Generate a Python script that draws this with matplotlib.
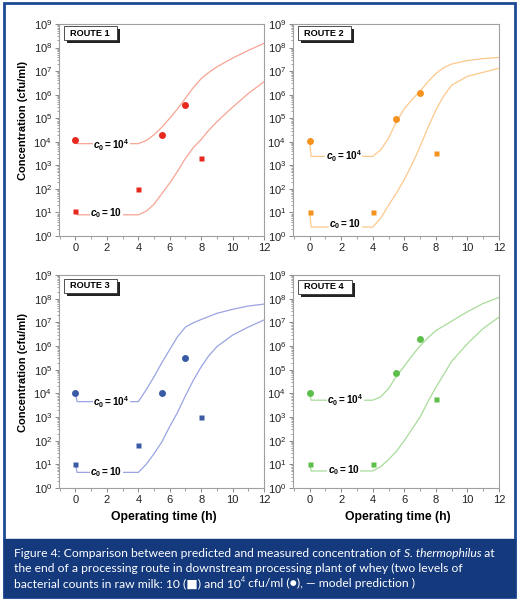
import numpy as np
import matplotlib
matplotlib.use("Agg")
import matplotlib.pyplot as plt
from matplotlib.patches import Rectangle
from matplotlib.ticker import FixedLocator, FuncFormatter, LogLocator, NullFormatter

plt.rcParams['mathtext.fontset'] = 'custom'
plt.rcParams['mathtext.rm'] = 'Liberation Sans'
plt.rcParams['mathtext.it'] = 'Liberation Sans:italic'
plt.rcParams['mathtext.bf'] = 'Liberation Sans:bold'
plt.rcParams['mathtext.bfit'] = 'Liberation Sans:bold:italic'
plt.rcParams['font.family'] = ['Liberation Sans', 'DejaVu Sans']

W, H = 521, 600

# ---------------- data (log10 cfu/ml) ----------------
routes = ["ROUTE 1", "ROUTE 2", "ROUTE 3", "ROUTE 4"]

meas_hi_t = [0, 5.5, 7]
meas_lo_t = [0, 4, 8]
route1_meas_hi = [4.07, 4.29, 5.56]
route1_meas_lo = [1.08, 2.0, 3.3]
route2_meas_hi = [4.04, 4.97, 6.06]
route2_meas_lo = [1.02, 1.02, 3.52]
route3_meas_hi = [4.02, 4.02, 5.5]
route3_meas_lo = [1.02, 1.8, 3.0]
route4_meas_hi = [4.0, 4.84, 6.28]
route4_meas_lo = [1.02, 1.02, 3.75]

model_t = [0, 0.1, 4.0, 4.5, 5.0, 5.5, 6.0, 6.5, 7.0, 7.5, 8.0, 8.5, 9.0, 10.0, 11.0, 12.0]
route1_model_hi = [4.05, 3.92, 3.92, 4.05, 4.3, 4.62, 5.0, 5.4, 5.85, 6.3, 6.68, 6.95, 7.18, 7.55, 7.88, 8.18]
route1_model_lo = [1.05, 0.9, 0.9, 1.05, 1.35, 1.8, 2.25, 2.75, 3.3, 3.75, 4.1, 4.5, 4.85, 5.47, 6.05, 6.55]
route2_model_hi = [4.06, 3.38, 3.38, 3.65, 4.15, 4.85, 5.4, 5.8, 6.15, 6.55, 6.9, 7.15, 7.3, 7.45, 7.53, 7.58]
route2_model_lo = [1.05, 0.38, 0.38, 0.75, 1.3, 1.82, 2.4, 3.05, 3.8, 4.6, 5.35, 5.95, 6.4, 6.78, 6.95, 7.12]
route3_model_hi = [4.0, 3.65, 3.65, 4.15, 4.7, 5.3, 5.85, 6.4, 6.8, 6.98, 7.12, 7.25, 7.38, 7.55, 7.69, 7.77]
route3_model_lo = [1.01, 0.66, 0.66, 1.0, 1.45, 1.95, 2.6, 3.2, 3.9, 4.55, 5.12, 5.6, 5.97, 6.46, 6.8, 7.1]
route4_model_hi = [4.0, 3.71, 3.71, 3.85, 4.2, 4.72, 5.15, 5.6, 6.0, 6.35, 6.65, 6.85, 7.05, 7.45, 7.8, 8.05]
route4_model_lo = [1.03, 0.72, 0.72, 0.9, 1.2, 1.55, 2.0, 2.5, 3.0, 3.65, 4.25, 4.8, 5.35, 6.1, 6.74, 7.22]

label_hi_pos = [(2.28, 3.84), (2.15, 3.38), (2.28, 3.62), (2.26, 3.71)]
label_lo_pos = [(1.96, 0.96), (2.26, 0.52), (1.96, 0.69), (2.15, 0.75)]

marker_colors = ["#e8281e", "#f5921e", "#3a5aa6", "#5bbf4a"]
line_colors = ["#f6a494", "#fcc98c", "#9aa4e2", "#a8dc9a"]

meas_hi = [route1_meas_hi, route2_meas_hi, route3_meas_hi, route4_meas_hi]
meas_lo = [route1_meas_lo, route2_meas_lo, route3_meas_lo, route4_meas_lo]
model_hi = [route1_model_hi, route2_model_hi, route3_model_hi, route4_model_hi]
model_lo = [route1_model_lo, route2_model_lo, route3_model_lo, route4_model_lo]

# ---------------- figure ----------------
fig = plt.figure(figsize=(W / 100, H / 100), dpi=100)
fig.patch.set_facecolor("white")

def fx(x):
    return x / W

def fy(y):
    return 1 - y / H

# outer frame
fig.add_artist(Rectangle((fx(4), fy(597)), fx(515) - fx(4), fy(3) - fy(597),
                         transform=fig.transFigure, fill=False, edgecolor="#1d4a97", lw=2.0))
# caption box
fig.add_artist(Rectangle((fx(4), fy(597)), fx(515) - fx(4), fy(539) - fy(597),
                         transform=fig.transFigure, facecolor="#14397c", edgecolor="#14397c", lw=1))

panels = [(59, 24, 264, 236), (293, 24, 499, 236), (59, 275, 264, 488), (293, 275, 499, 488)]
route_boxes = [(64, 26, 117, 40), (298, 26, 351, 40), (64, 279, 117, 293), (298, 280, 352, 294)]

def fmt(v, pos):
    e = int(round(np.log10(v)))
    return r'$\mathrm{10^{%d}}$' % e

for i in range(4):
    x0, y0, x1, y1 = panels[i]
    ax = fig.add_axes([fx(x0), fy(y1), fx(x1) - fx(x0), fy(y0) - fy(y1)])
    ax.set_yscale('log')
    ax.set_xlim(-1.05, 12)
    ax.set_ylim(1, 1e9)
    t = np.array(model_t)
    ax.plot(t, 10 ** np.array(model_hi[i]), color=line_colors[i], lw=0.9, zorder=2)
    ax.plot(t, 10 ** np.array(model_lo[i]), color=line_colors[i], lw=0.9, zorder=2)
    ax.plot(meas_hi_t, 10 ** np.array(meas_hi[i]), 'o', color=marker_colors[i], ms=5, mec='none', zorder=4)
    ax.plot(meas_lo_t, 10 ** np.array(meas_lo[i]), 's', color=marker_colors[i], ms=3.6, mec='none', zorder=4)

    lx, ly = label_hi_pos[i]
    ax.text(lx, 10 ** ly, r'$\mathbfit{c}_{\mathbf{0}}\mathbf{=10^{4}}$', fontsize=7.2, ha='center', va='center',
            zorder=3, bbox=dict(facecolor='white', edgecolor='none', pad=0.3))
    lx, ly = label_lo_pos[i]
    ax.text(lx, 10 ** ly, r'$\mathbfit{c}_{\mathbf{0}}\mathbf{=10}$', fontsize=7.2, ha='center', va='center',
            zorder=3, bbox=dict(facecolor='white', edgecolor='none', pad=0.3))

    ax.yaxis.set_major_locator(FixedLocator([10.0 ** k for k in range(10)]))
    ax.yaxis.set_major_formatter(FuncFormatter(fmt))
    ax.yaxis.set_minor_locator(LogLocator(base=10, subs=np.arange(2, 10), numticks=20))
    ax.yaxis.set_minor_formatter(NullFormatter())
    ax.set_xticks([0, 2, 4, 6, 8, 10, 12])
    ax.set_xticks(np.arange(-1, 13, 1), minor=True)
    ax.tick_params(axis='both', which='major', labelsize=8, length=3, width=0.6, color='#777777',
                   labelcolor='#222222', pad=2)
    ax.tick_params(axis='both', which='minor', length=1.8, width=0.5, color='#777777')
    for s in ax.spines.values():
        s.set_color('#a0a0a0')
        s.set_linewidth(0.8)
    if i % 2 == 0:
        fig.text(fx(23), fy((y0 + y1) / 2 - 9), "Concentration (cfu/ml)", rotation=90, ha='center', va='center',
                 fontsize=8.0, fontweight='bold')
    if i >= 2:
        fig.text(fx((x0 + x1) / 2 + 2), fy(517), "Operating time (h)", ha='center', va='center',
                 fontsize=8.8, fontweight='bold')

    bx0, by0, bx1, by1 = route_boxes[i]
    # shadow
    fig.add_artist(Rectangle((fx(bx0 + 3), fy(by1 + 3)), fx(bx1) - fx(bx0), fy(by0) - fy(by1),
                             transform=fig.transFigure, facecolor='#222222', edgecolor='none', zorder=10))
    fig.add_artist(Rectangle((fx(bx0), fy(by1)), fx(bx1) - fx(bx0), fy(by0) - fy(by1),
                             transform=fig.transFigure, facecolor='white', edgecolor='#333333', lw=0.6, zorder=11))
    fig.text(fx(bx0 + 6), fy((by0 + by1) / 2), routes[i], ha='left', va='center', fontsize=6.6,
             fontweight='bold', zorder=12)

# ---------------- caption ----------------
cap_font = ['Lato', 'DejaVu Sans']
cap_size = 8.75
cap_x = fx(14)
fig.canvas.draw()
renderer = fig.canvas.get_renderer()

def draw_pieces(pieces, y):
    x = cap_x
    for txt, style, sup in pieces:
        size = cap_size * (0.6 if sup else 1.0)
        yy = y + (4.5 / H if sup else 0)
        tt = fig.text(x, yy, txt, color='white', fontsize=size, fontstyle=style, family=cap_font,
                      ha='left', va='baseline', zorder=20)
        bb = tt.get_window_extent(renderer=renderer)
        x += bb.width / W

line1 = [("Figure 4: Comparison between predicted and measured concentration of ", 'normal', False),
         ("S. thermophilus", 'italic', False), (" at", 'normal', False)]
line2 = [("the end of a processing route in downstream processing plant of whey (two levels of", 'normal', False)]
line3 = [("bacterial counts in raw milk: 10 (\u25a0) and 10", 'normal', False), ("4", 'normal', True),
         (" cfu/ml (\u25cf), \u2014 model prediction )", 'normal', False)]
draw_pieces(line1, fy(557))
draw_pieces(line2, fy(572))
draw_pieces(line3, fy(587))

fig.savefig("out.png", dpi=100, facecolor=fig.get_facecolor())
